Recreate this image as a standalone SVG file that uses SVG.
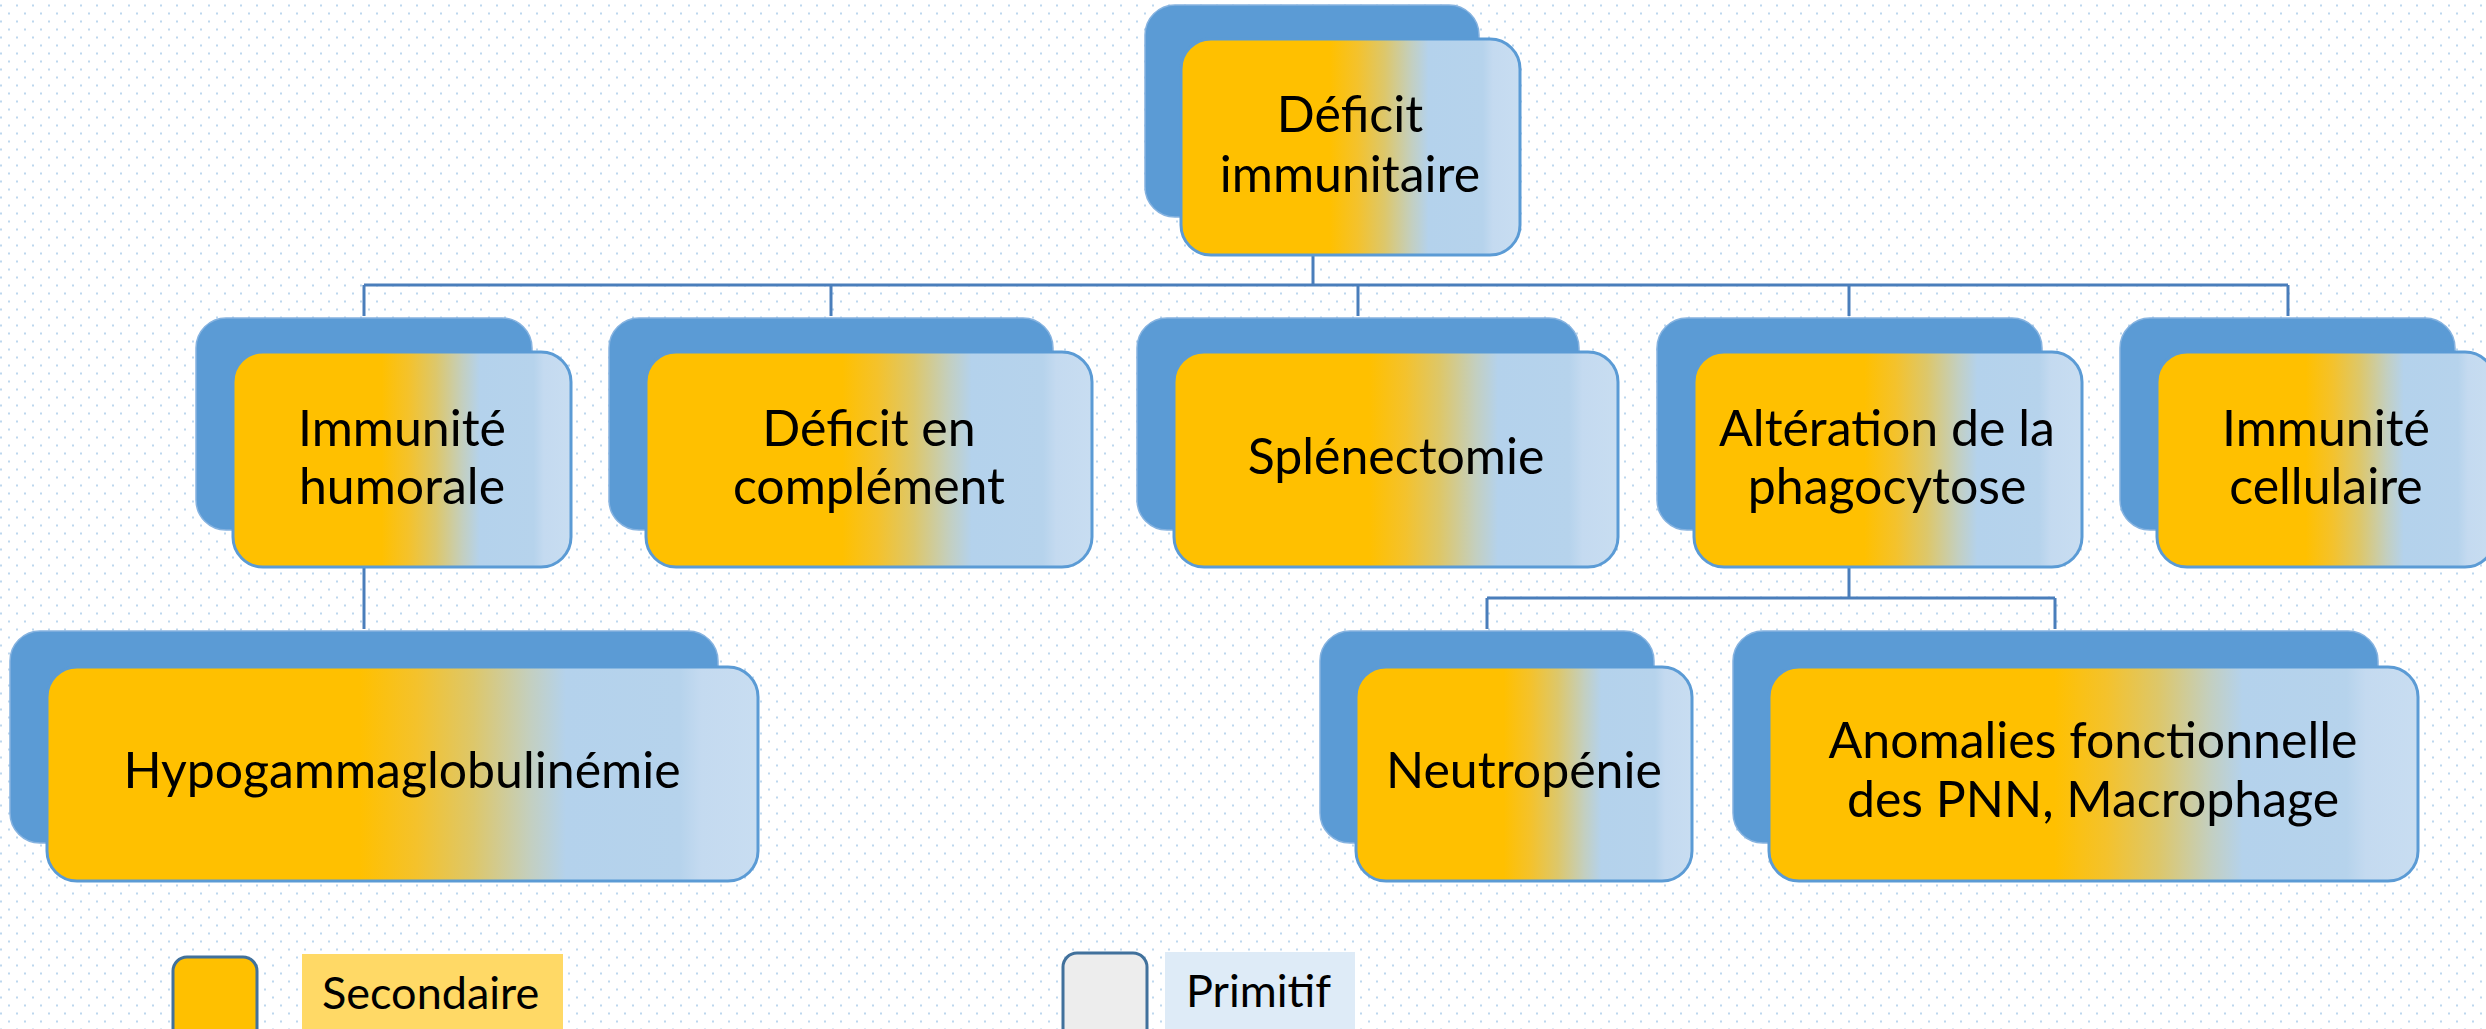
<svg xmlns="http://www.w3.org/2000/svg" width="2486" height="1029" viewBox="0 0 2486 1029">
<defs>
<pattern id="dots" x="0" y="0" width="16" height="16" patternUnits="userSpaceOnUse">
<rect x="0" y="4.5" width="2" height="2" fill="#bdd7ee"/>
<rect x="8" y="12.5" width="2" height="2" fill="#bdd7ee"/>
</pattern>
<linearGradient id="grad" x1="0" y1="0" x2="1" y2="0">
<stop offset="0" stop-color="#ffc000"/>
<stop offset="0.44" stop-color="#ffc000"/>
<stop offset="0.52" stop-color="#f4c22c"/>
<stop offset="0.60" stop-color="#ddc76a"/>
<stop offset="0.68" stop-color="#c3cfc0"/>
<stop offset="0.73" stop-color="#b4d2ec"/>
<stop offset="0.89" stop-color="#b6d3ec"/>
<stop offset="0.92" stop-color="#c4daf0"/>
<stop offset="1" stop-color="#c8ddf1"/>
</linearGradient>
</defs>
<style>
.back{fill:#5b9bd5;stroke:#86b3e0;stroke-width:1.5}
.front{fill:url(#grad);stroke:#5b9bd5;stroke-width:3}
.lbl{font-family:Lato,"Liberation Sans",sans-serif;font-size:50px;fill:#000;text-anchor:middle}
.leg{font-family:Lato,"Liberation Sans",sans-serif;font-size:45px;fill:#000}
.conn{stroke:#4a7ebb;stroke-width:3;fill:none}
</style>
<rect width="2486" height="1029" fill="#ffffff"/>
<rect width="2486" height="1029" fill="url(#dots)"/>

<g id="connectors">
<path class="conn" d="M1313 255V285M364 285H2288M364 285V316M831 285V316M1358 285V316M1849 285V316M2288 285V316"/>
<path class="conn" d="M364 567V629"/>
<path class="conn" d="M1849 567V598M1487 598H2055M1487 598V629M2055 598V629"/>
</g>

<g id="node-deficit-immunitaire">
<rect class="back" x="1145" y="5" width="334" height="212" rx="30"/>
<rect class="front" x="1181" y="39" width="339" height="216" rx="30"/>
<text class="lbl" x="1350" y="132">Déficit</text>
<text class="lbl" x="1350" y="192">immunitaire</text>
</g>

<g id="node-immunite-humorale">
<rect class="back" x="196" y="318" width="336" height="212" rx="30"/>
<rect class="front" x="233" y="352" width="338" height="215" rx="30"/>
<text class="lbl" x="402" y="446">Immunité</text>
<text class="lbl" x="402" y="504">humorale</text>
</g>

<g id="node-deficit-complement">
<rect class="back" x="609" y="318" width="444" height="212" rx="30"/>
<rect class="front" x="646" y="352" width="446" height="215" rx="30"/>
<text class="lbl" x="869" y="446">Déficit en</text>
<text class="lbl" x="869" y="504">complément</text>
</g>

<g id="node-splenectomie">
<rect class="back" x="1137" y="318" width="442" height="212" rx="30"/>
<rect class="front" x="1174" y="352" width="444" height="215" rx="30"/>
<text class="lbl" x="1396" y="474">Splénectomie</text>
</g>

<g id="node-alteration-phagocytose">
<rect class="back" x="1657" y="318" width="385" height="212" rx="30"/>
<rect class="front" x="1694" y="352" width="388" height="215" rx="30"/>
<text class="lbl" x="1887" y="446">Altération de la</text>
<text class="lbl" x="1887" y="504">phagocytose</text>
</g>

<g id="node-immunite-cellulaire">
<rect class="back" x="2120" y="318" width="335" height="212" rx="30"/>
<rect class="front" x="2157" y="352" width="338" height="215" rx="30"/>
<text class="lbl" x="2326" y="446">Immunité</text>
<text class="lbl" x="2326" y="504">cellulaire</text>
</g>

<g id="node-hypogammaglobulinemie">
<rect class="back" x="10" y="631" width="708" height="212" rx="30"/>
<rect class="front" x="47" y="667" width="711" height="214" rx="30"/>
<text class="lbl" x="402" y="788">Hypogammaglobulinémie</text>
</g>

<g id="node-neutropenie">
<rect class="back" x="1320" y="631" width="334" height="212" rx="30"/>
<rect class="front" x="1356" y="667" width="336" height="214" rx="30"/>
<text class="lbl" x="1524" y="788">Neutropénie</text>
</g>

<g id="node-anomalies">
<rect class="back" x="1733" y="631" width="645" height="212" rx="30"/>
<rect class="front" x="1769" y="667" width="649" height="214" rx="30"/>
<text class="lbl" x="2093" y="758">Anomalies fonctionnelle</text>
<text class="lbl" x="2093" y="817">des PNN, Macrophage</text>
</g>

<g id="legend">
<rect x="173" y="957" width="84" height="90" rx="14" fill="#ffc000" stroke="#41719c" stroke-width="3"/>
<rect x="302" y="954" width="261" height="80" fill="#ffd966"/>
<text class="leg" x="322" y="1009">Secondaire</text>
<rect x="1063" y="953" width="84" height="90" rx="14" fill="#ededed" stroke="#41719c" stroke-width="3"/>
<rect x="1165" y="952" width="190" height="80" fill="#deebf7"/>
<text class="leg" x="1186" y="1007">Primitif</text>
</g>
</svg>
